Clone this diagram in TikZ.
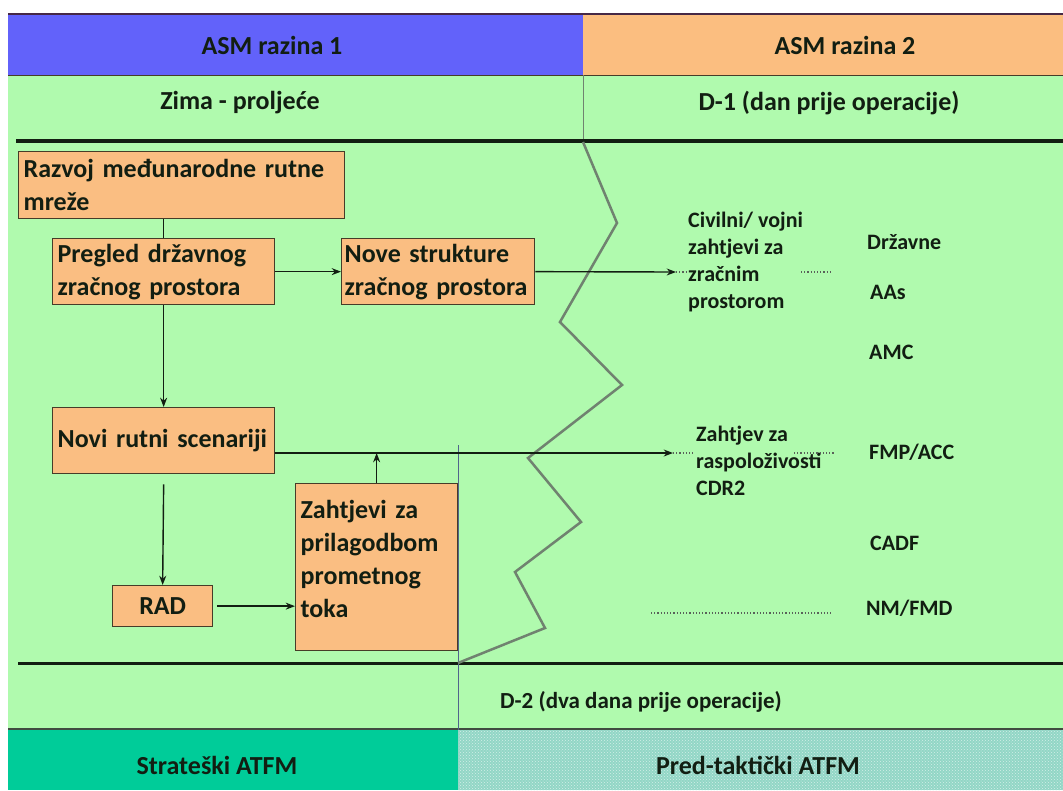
\documentclass[tikz,border=0pt]{standalone}
\usepackage{fontspec}
\setmainfont{Carlito}
\usetikzlibrary{arrows.meta,positioning,patterns}

\definecolor{asmblue}{RGB}{98,98,250}
\definecolor{asmorange}{RGB}{251,190,128}
\definecolor{boxorange}{RGB}{250,190,130}
\definecolor{bggreen}{RGB}{176,250,174}
\definecolor{stratteal}{RGB}{0,204,153}
\definecolor{predteal}{RGB}{146,214,198}
\definecolor{zigzag}{RGB}{112,130,112}
\definecolor{ink}{RGB}{18,30,18}
\definecolor{boxline}{RGB}{70,60,40}

\begin{document}
\begin{tikzpicture}[>=Stealth, x=1pt, y=-1pt,
    box/.style={draw=boxline, fill=boxorange, line width=1.3pt, anchor=north west,
        align=left, inner xsep=5pt, inner ysep=1pt, text=ink,
        font=\bfseries\fontsize{26}{33}\selectfont},
    big/.style={text=ink, font=\bfseries\fontsize{26}{32}\selectfont},
    small/.style={text=ink, anchor=west, align=left, inner sep=0pt,
        font=\bfseries\fontsize{22}{26.7}\selectfont},
    flow/.style={->, line width=1.4pt, draw=ink},
    dots/.style={dotted, line width=1.2pt, draw=ink!70}]

    \useasboundingbox (0,0) rectangle (1063,790);

    % bands
    \fill[bggreen] (8,75) rectangle (1063,730);
    \fill[asmblue] (8,14) rectangle (583,75);
    \fill[asmorange] (583,14) rectangle (1063,75);
    \draw[line width=1.5pt, draw={rgb,255:red,70;green,40;blue,70}] (8,14) -- (1063,14);
    \draw[line width=1pt, draw=boxline] (8,75) -- (1063,75);
    \draw[line width=1pt, draw=zigzag] (583,75) -- (583,141);
    \fill[stratteal] (8,730) rectangle (458,790);
    \fill[predteal] (458,730) rectangle (1063,790);
    \fill[pattern=crosshatch dots, pattern color=white!60!predteal] (458,730) rectangle (1063,790);

    \draw[line width=3.5pt, draw=ink] (16,141) -- (1063,141);
    \draw[line width=3pt, draw=ink] (18,663) -- (1063,663);
    \draw[line width=2pt, draw=ink!80] (8,729) -- (1063,729);
    \draw[line width=1pt, draw={rgb,255:red,80;green,100;blue,140}] (458,445) -- (458,730);

    % zig-zag
    \draw[line width=2.5pt, draw=zigzag, line join=miter]
        (583,142) -- (617,223) -- (560,322) -- (622,385) -- (528,458)
        -- (581,522) -- (515,572) -- (545,628) -- (458,663);

    % headers
    \node[big] (asm1) at (272,45) {ASM razina 1};
    \node[big] (asm2) at (845,45) {ASM razina 2};
    \node[big] (zima) at (240,103) {Zima - proljeće};
    \node[big] (dan1) at (829,103) {D-1 (dan prije operacije)};
    \node[small, font=\bfseries\fontsize{23}{27}\selectfont] (dan2) at (500,702) {D-2 (dva dana prije operacije)};
    \node[big] (strat) at (217,765) {Strateški ATFM};
    \node[big] (pred) at (758,765) {Pred-taktički ATFM};

    % boxes
    \node[box, text width=316pt, minimum height=67pt] (razvoj) at (18,151)
        {\mbox{Razvoj međunarodne rutne}\\mreže};
    \node[box, text width=212pt, minimum height=66pt] (pregled) at (52,238)
        {\mbox{Pregled državnog}\\\mbox{zračnog prostora}};
    \node[box, inner xsep=3pt, text width=187pt, minimum height=66pt] (nove) at (341,238)
        {\mbox{Nove strukture}\\\mbox{zračnog prostora}};
    \node[box, text width=212pt, minimum height=66pt] (novi) at (52,407)
        {\mbox{Novi rutni scenariji}};
    \node[box, align=center, text width=90pt, minimum height=41pt] (rad) at (112,585) {RAD};
    \node[box, text width=152pt, minimum height=167pt] (zahtjevi) at (295,483)
        {\mbox{Zahtjevi za}\\prilagodbom\\prometnog\\toka\\[-16pt]\mbox{}};

    % right side
    \node[small] (civ) at (688,262) {Civilni/ vojni\\zahtjevi za\\zračnim\\prostorom};
    \node[small] (cdr) at (696,461) {Zahtjev za\\raspoloživosti\\CDR2};
    \node[small] (drz) at (867,242) {Državne};
    \node[small] (aas) at (870,292) {AAs};
    \node[small] (amc) at (869,352) {AMC};
    \node[small] (fmp) at (869,452) {FMP/ACC};
    \node[small] (cadf) at (870,543) {CADF};
    \node[small] (nm) at (866,608) {NM/FMD};

    \coordinate (civin) at (676,272);
    \coordinate (cdrin) at (673,453);

    % connectors
    \draw[line width=1.4pt, draw=ink] (pregled.north) -- (pregled.north |- razvoj.south);
    \draw[flow] (pregled.east) -- (nove.west);
    \draw[flow] (pregled.south) -- (novi.north);
    \draw[flow] (nove.east) -- (civin);
    \draw[flow] (novi.east |- cdrin) -- (cdrin);
    \draw[flow] (zahtjevi.north) -- (zahtjevi.north |- cdrin);
    \draw[flow] ([yshift=-10pt]novi.south) -- (rad.north);
    \draw[flow] ([xshift=4pt]rad.east) -- (zahtjevi.west |- rad);

    \draw[dots] (civin) -- +(12,0);
    \draw[dots] (cdrin) -- +(20,0);
    \draw[dots] (801,272) -- (832,272);
    \draw[dots] (794,453) -- (834,453);
    \draw[dots] (651,613) -- (833,613);

\end{tikzpicture}
\end{document}
